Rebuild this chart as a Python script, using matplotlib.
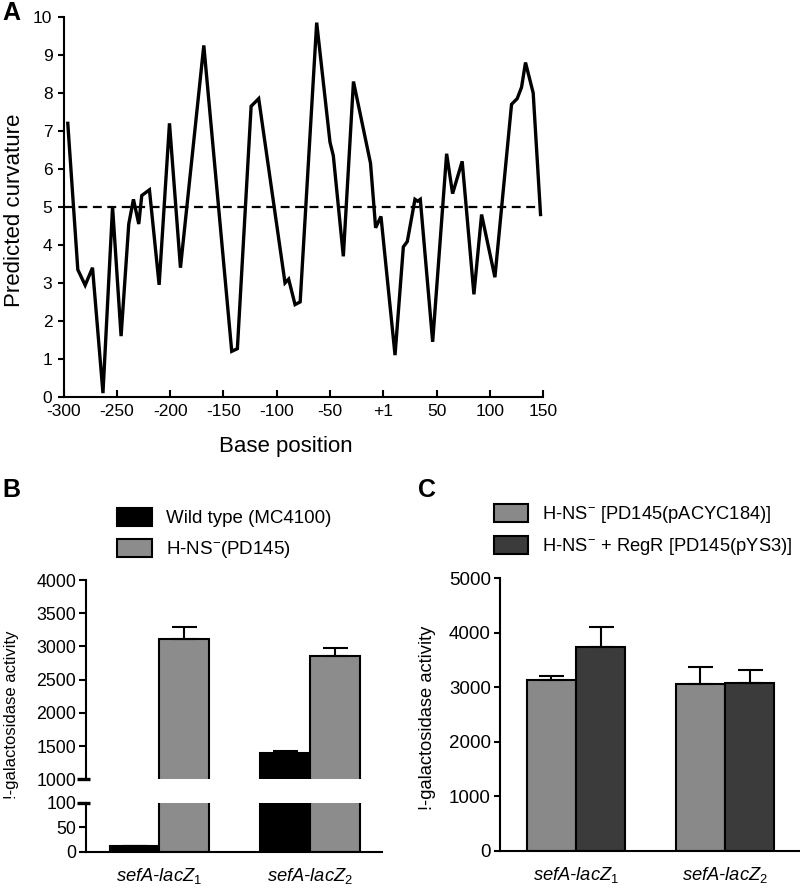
import matplotlib
matplotlib.use("Agg")
import matplotlib.pyplot as plt
from matplotlib.patches import Patch
import matplotlib.transforms as mtransforms

plt.rcParams['font.family'] = ['Liberation Sans', 'DejaVu Sans']
plt.rcParams['mathtext.fontset'] = 'custom'
plt.rcParams['mathtext.rm'] = 'Liberation Sans'
plt.rcParams['mathtext.it'] = 'Liberation Sans:italic'
plt.rcParams['mathtext.default'] = 'regular'
plt.rcParams['axes.unicode_minus'] = False

# ---------------- data ----------------
# Panel A: predicted curvature vs base position
positions = [-296, -286.6, -279.7, -272.8, -263, -254, -246, -238.8, -234.4, -229.4,
             -226.6, -219.4, -210.3, -200.6, -190.3, -168.4, -142.2, -136.9, -124, -116.9,
             -92.2, -88.8, -82.8, -78, -62.5, -50, -46.9, -37.5, -28, -12,
             -7.2, -2.2, 11, 18.8, 22.5, 29.7, 32.2, 34.7, 46.3, 59.4,
             65, 74, 85, 92.2, 104.7, 120.3, 125.6, 129.7, 133.4, 140.6, 147.5]
curvature = [7.2, 3.35, 2.94, 3.4, 0.1, 5.0, 1.6, 4.55, 5.2, 4.55,
             5.3, 5.45, 2.95, 7.2, 3.4, 9.25, 1.2, 1.27, 7.65, 7.85,
             3.0, 3.1, 2.43, 2.5, 9.85, 6.7, 6.35, 3.7, 8.3, 6.15,
             4.45, 4.75, 1.1, 3.95, 4.09, 5.2, 5.15, 5.2, 1.45, 6.4,
             5.35, 6.2, 2.7, 4.8, 3.15, 7.7, 7.85, 8.15, 8.8, 8.0, 4.8]
threshold = 5
a_xticks = [-300, -250, -200, -150, -100, -50, 0, 50, 100, 150]
a_xticklabels = ['-300', '-250', '-200', '-150', '-100', '-50', '+1', '50', '100', '150']
a_yticks = [0, 1, 2, 3, 4, 5, 6, 7, 8, 9, 10]

# Panel B
b_categories = [r'sefA-lacZ$_\mathrm{1}$', r'sefA-lacZ$_\mathrm{2}$']
b_series = ['Wild type (MC4100)', 'H-NS$^{-}$(PD145)']
b_wt = [12, 1390]
b_wt_err = [0, 40]
b_hns = [3115, 2860]
b_hns_err = [180, 110]
b_top_ticks = [1000, 1500, 2000, 2500, 3000, 3500, 4000]
b_bot_ticks = [0, 50, 100]

# Panel C
c_categories = [r'sefA-lacZ$_\mathrm{1}$', r'sefA-lacZ$_\mathrm{2}$']
c_series = ['H-NS$^{-}$ [PD145(pACYC184)]', 'H-NS$^{-}$ + RegR [PD145(pYS3)]']
c_vec = [3135, 3055]
c_vec_err = [80, 320]
c_regr = [3745, 3085]
c_regr_err = [365, 235]
c_yticks = [0, 1000, 2000, 3000, 4000, 5000]

ylab = '!-galactosidase activity'

# ---------------- figure ----------------
fig = plt.figure(figsize=(8, 8.9), dpi=100)

# ===== Panel A =====
axA = fig.add_axes([0.0794, 0.554, 0.5996, 0.427])
axA.plot(positions, curvature, color='black', lw=2.4, solid_joinstyle='miter')
axA.axhline(threshold, xmin=0, xmax=0.99, color='black', lw=1.6, dashes=(4, 2.5))
axA.set_xlim(-300, 150)
axA.set_ylim(0, 10)
axA.set_xticks(a_xticks)
axA.set_xticklabels(a_xticklabels)
axA.set_yticks(a_yticks)
for s in ['top', 'right']:
    axA.spines[s].set_visible(False)
for s in ['left', 'bottom']:
    axA.spines[s].set_linewidth(1.5)
axA.tick_params(axis='x', direction='in', length=5, width=1.5, pad=5, labelsize=12.5)
axA.tick_params(axis='y', direction='out', length=4, width=1.5, pad=4, labelsize=12.5)
axA.set_ylabel('Predicted curvature', fontsize=16)
axA.yaxis.set_label_coords(-0.080, 0.49)
axA.set_xlabel('Base position', fontsize=16, va='top')
axA.xaxis.set_label_coords(0.464, -0.103)
fig.text(0.003, 0.999, 'A', fontsize=18, fontweight='bold', va='top', ha='left')

# ===== Panel B =====
bw = 0.33
bx = [0, 1]
axBt = fig.add_axes([0.1075, 0.1244, 0.3696, 0.2239])
axBb = fig.add_axes([0.1075, 0.0430, 0.3696, 0.0551])
for ax in (axBt, axBb):
    ax.bar([x - bw / 2 for x in bx], b_wt, bw, color='black', edgecolor='black', lw=1.5)
    ax.bar([x + bw / 2 for x in bx], b_hns, bw, color='#8c8c8c', edgecolor='black', lw=1.5)
    ax.errorbar([x - bw / 2 for x in bx], b_wt, yerr=[[0, 0], b_wt_err], fmt='none',
                ecolor='black', elinewidth=1.5, capsize=9, capthick=1.5)
    ax.errorbar([x + bw / 2 for x in bx], b_hns, yerr=[[0, 0], b_hns_err], fmt='none',
                ecolor='black', elinewidth=1.5, capsize=9, capthick=1.5)
    ax.set_xlim(-0.486, 1.476)
    for s in ['top', 'right']:
        ax.spines[s].set_visible(False)
    ax.spines['left'].set_linewidth(1.5)
    ax.spines['bottom'].set_linewidth(1.5)
    ax.tick_params(axis='y', direction='out', length=5, width=1.5, pad=2, labelsize=12.8)
axBt.set_ylim(1000, 4000)
axBt.set_yticks(b_top_ticks)
axBt.spines['bottom'].set_visible(False)
axBt.set_xticks([])
axBb.set_ylim(0, 100)
axBb.set_yticks(b_bot_ticks)
axBb.set_xticks(bx)
axBb.set_xticklabels(b_categories, fontstyle='italic', fontsize=13.2)
axBb.tick_params(axis='x', length=0, pad=10)
# break markers
trt = mtransforms.blended_transform_factory(axBt.transAxes, axBt.transData)
axBt.plot([-0.03, 0.0135], [1000, 1000], transform=trt, color='black', lw=2.4, clip_on=False,
          solid_capstyle='butt')
trb = mtransforms.blended_transform_factory(axBb.transAxes, axBb.transData)
axBb.plot([-0.03, 0.0135], [100, 100], transform=trb, color='black', lw=2.4, clip_on=False,
          solid_capstyle='butt')
fig.text(0.0145, 0.197, ylab, rotation=90, ha='center', va='center', fontsize=12)
hB = [Patch(facecolor='black', edgecolor='black', lw=1.5),
      Patch(facecolor='#8c8c8c', edgecolor='black', lw=1.5)]
axBt.legend(hB, b_series, loc='upper left', bbox_to_anchor=(117 / 800, 1 - 508 / 890),
            bbox_transform=fig.transFigure, frameon=False, borderpad=0, borderaxespad=0,
            handlelength=1.87, handleheight=1.1, handletextpad=0.75, labelspacing=0.6,
            fontsize=13.5)
fig.text(0.003, 1 - 478 / 890, 'B', fontsize=18, fontweight='bold', va='top', ha='left')

# ===== Panel C =====
axC = fig.add_axes([0.625, 0.0442, 0.375, 0.3060])
axC.bar([x - bw / 2 for x in bx], c_vec, bw, color='#898989', edgecolor='black', lw=1.5)
axC.bar([x + bw / 2 for x in bx], c_regr, bw, color='#3b3b3b', edgecolor='black', lw=1.5)
axC.errorbar([x - bw / 2 for x in bx], c_vec, yerr=[[0, 0], c_vec_err], fmt='none',
             ecolor='black', elinewidth=1.5, capsize=9, capthick=1.5)
axC.errorbar([x + bw / 2 for x in bx], c_regr, yerr=[[0, 0], c_regr_err], fmt='none',
             ecolor='black', elinewidth=1.5, capsize=9, capthick=1.5)
axC.set_xlim(-0.51, 1.503)
axC.set_ylim(0, 5000)
axC.set_yticks(c_yticks)
for s in ['top', 'right']:
    axC.spines[s].set_visible(False)
axC.spines['left'].set_linewidth(1.5)
axC.spines['bottom'].set_linewidth(1.5)
axC.tick_params(axis='y', direction='out', length=4.5, width=1.5, pad=2, labelsize=13.5)
axC.set_xticks(bx)
axC.set_xticklabels(c_categories, fontstyle='italic', fontsize=13.2)
axC.tick_params(axis='x', length=0, pad=10)
fig.text(0.534, 0.194, ylab, rotation=90, ha='center', va='center', fontsize=13.2)
hC = [Patch(facecolor='#898989', edgecolor='black', lw=1.5),
      Patch(facecolor='#3b3b3b', edgecolor='black', lw=1.5)]
axC.legend(hC, c_series, loc='upper left', bbox_to_anchor=(494 / 800, 1 - 504 / 890),
           bbox_transform=fig.transFigure, frameon=False, borderpad=0, borderaxespad=0,
           handlelength=1.87, handleheight=1.1, handletextpad=0.75, labelspacing=0.6,
           fontsize=13.2)
fig.text(0.522, 1 - 478 / 890, 'C', fontsize=18, fontweight='bold', va='top', ha='left')

fig.savefig('out.png', dpi=100)
